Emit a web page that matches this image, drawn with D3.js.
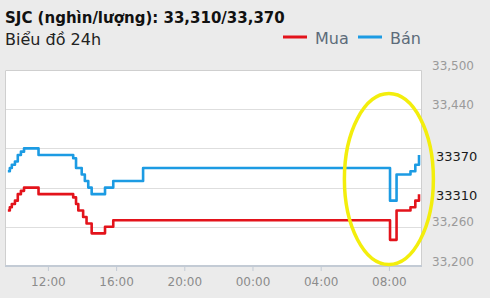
<!DOCTYPE html>
<html><head><meta charset="utf-8">
<script src="https://cdn.jsdelivr.net/npm/d3@7"></script>
<style>html,body{margin:0;padding:0;background:#fff;}svg{display:block;}</style>
</head><body>
<svg id="c" width="490" height="306"></svg>
<script>
const titleText = "SJC (nghìn/lượng): 33,310/33,370";
const subtitleText = "Biểu đồ 24h";
const seriesNames = ["Mua", "Bán"];
const times = [
  "2015-06-01 09:39","2015-06-01 09:46","2015-06-01 09:53","2015-06-01 10:04","2015-06-01 10:14",
  "2015-06-01 10:25","2015-06-01 10:36","2015-06-01 11:27","2015-06-01 13:29","2015-06-01 13:39",
  "2015-06-01 13:47","2015-06-01 13:59","2015-06-01 14:04","2015-06-01 14:10","2015-06-01 14:16",
  "2015-06-01 14:22","2015-06-01 14:34","2015-06-01 15:21","2015-06-01 15:50","2015-06-01 17:35",
  "2015-06-02 08:04","2015-06-02 08:27","2015-06-02 09:16","2015-06-02 09:33","2015-06-02 09:46"
];
const mua = [33285,33290,33295,33300,33310,33315,33320,33310,33305,33295,
             33285,33285,33275,33275,33265,33265,33250,33260,33270,33270,
             33240,33285,33290,33300,33310];
const ban = [33345,33350,33355,33360,33370,33375,33380,33370,33365,33350,
             33350,33340,33340,33330,33330,33320,33310,33320,33330,33350,
             33300,33340,33345,33355,33370];
const xDomain = ["2015-06-01 09:29","2015-06-02 09:53"];
const yDomain = [33200, 33500];
const yTicks = [33500, 33440, 33380, 33320, 33260, 33200];
const yTickLabels = ["33,500","33,440","33370","33310","33,260","33,200"];
const yTickHighlighted = [false,false,true,true,false,false];
const highlightCenter = ["2015-06-02 08:00", 33333];

const parse = d3.timeParse("%Y-%m-%d %H:%M");
const svg = d3.select("#c");
const W = 490, H = 306;
const plot = {l: 5, r: 421, t: 70, b: 266};

svg.append("rect").attr("x",0).attr("y",0).attr("width",W).attr("height",298).attr("fill","#ebebeb");

const x = d3.scaleTime().domain(xDomain.map(parse)).range([plot.l, plot.r]);
const y = d3.scaleLinear().domain(yDomain).range([plot.b, plot.t]);

svg.append("rect").attr("x",plot.l).attr("y",plot.t).attr("width",plot.r-plot.l).attr("height",plot.b-plot.t).attr("fill","#fff");

// gridlines
svg.append("g").selectAll("line").data(yTicks.slice(1,-1)).join("line")
  .attr("x1",plot.l).attr("x2",plot.r)
  .attr("y1",d=>Math.round(y(d))+0.5).attr("y2",d=>Math.round(y(d))+0.5)
  .attr("stroke","#dedede").attr("stroke-width",1);

// borders
svg.append("path").attr("d",`M${plot.l+0.5},${plot.b}V${plot.t+0.5}H${plot.r+0.5}V${plot.b}`)
  .attr("fill","none").attr("stroke","#cfcfcf").attr("stroke-width",1);

// x axis
const xAxis = d3.axisBottom(x).ticks(d3.timeHour.every(4)).tickFormat(d3.timeFormat("%H:%M")).tickSize(5).tickPadding(6);
const gx = svg.append("g").attr("transform",`translate(0,${plot.b})`).call(xAxis);
gx.select(".domain").attr("stroke","#c3cbd5").attr("stroke-width",2).attr("d",`M${plot.l},0H${plot.r+1}`);
gx.selectAll(".tick line").attr("stroke","#c3cbd5").attr("stroke-width",1);
gx.selectAll(".tick text").attr("fill","#8c8c8c").attr("font-family","DejaVu Sans").attr("font-size","12px");

// y axis labels on right
const yLab = svg.append("g");
yTicks.forEach((t,i)=>{
  const hl = yTickHighlighted[i];
  yLab.append("text")
    .attr("x", hl ? 436 : 432)
    .attr("y", hl ? y(t)+8 : y(t)-4.5)
    .attr("dominant-baseline","central")
    .attr("font-family","DejaVu Sans")
    .attr("font-size", hl ? "13px" : "12px")
    .attr("fill", hl ? "#1a1a1a" : "#9a9a9a")
    .text(yTickLabels[i]);
});

// lines
const pts = arr => arr.map((v,i)=>({t: parse(times[i]), v}));
const line = d3.line().x(d=>x(d.t)).y(d=>y(d.v)).curve(d3.curveStepAfter);
svg.append("path").datum(pts(ban)).attr("d",line).attr("fill","none")
  .attr("stroke","#1c9be3").attr("stroke-width",2.6).attr("stroke-linejoin","round");
svg.append("path").datum(pts(mua)).attr("d",line).attr("fill","none")
  .attr("stroke","#e3131b").attr("stroke-width",2.6).attr("stroke-linejoin","round");

// title
svg.append("text").attr("x",5).attr("y",23).attr("font-family","DejaVu Sans").attr("font-weight","bold")
  .attr("font-size","15px").attr("fill","#111").text(titleText);
svg.append("text").attr("x",5).attr("y",45).attr("font-family","DejaVu Sans")
  .attr("font-size","16px").attr("fill","#222").text(subtitleText);

// legend
const legColors = ["#e3131b","#1c9be3"];
const legX = [283, 358];
seriesNames.forEach((n,i)=>{
  svg.append("line").attr("x1",legX[i]).attr("x2",legX[i]+24).attr("y1",37).attr("y2",37)
    .attr("stroke",legColors[i]).attr("stroke-width",3);
  svg.append("text").attr("x",legX[i]+32).attr("y",44).attr("font-family","DejaVu Sans")
    .attr("font-size","16px").attr("fill","#5d6b7a").text(n);
});

// highlight ellipse
svg.append("ellipse")
  .attr("cx", x(parse(highlightCenter[0]))).attr("cy", y(highlightCenter[1]))
  .attr("rx",44.5).attr("ry",85.5)
  .attr("fill","none").attr("stroke","#f3ee0c").attr("stroke-width",3.5);
</script>
</body></html>
